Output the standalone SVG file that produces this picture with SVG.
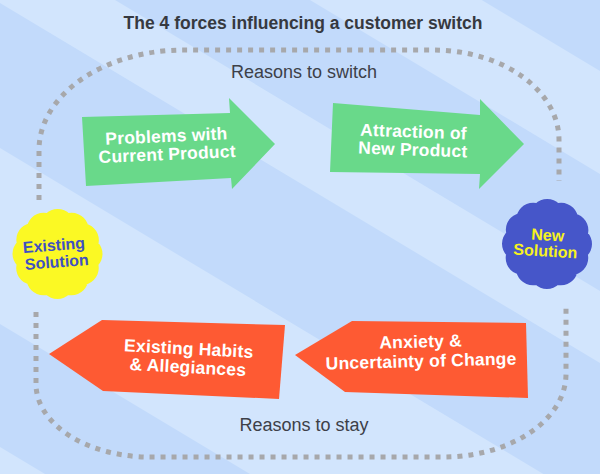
<svg xmlns="http://www.w3.org/2000/svg" width="600" height="474" viewBox="0 0 600 474">
<style>
  text{font-family:"Liberation Sans",Arial,sans-serif;text-anchor:middle}
  .title{font-size:17.5px;font-weight:bold;fill:#363940}
  .reason{font-size:18px;fill:#3d4048}
  .lbl{font-size:17.5px;font-weight:bold;fill:#ffffff;letter-spacing:0.2px}
  .blobtxt{font-size:16px;font-weight:bold}
  .green{fill:#69d98a}
  .orange{fill:#fe5a33}
  .loop{fill:none;stroke:#a7a8ab;stroke-width:5;stroke-dasharray:5 6}
  .light{fill:#d2e5fd}
  .blob{stroke-width:34;stroke-dasharray:0 14.661;stroke-linecap:round}
</style>
<g id="background">
  <rect x="0" y="0" width="600" height="474" fill="#c2dafb"/>
  <polygon class="light" points="-10,-295 610,77 610,180 -10,-192"/>
  <polygon class="light" points="-10,-75 610,297 610,369 -10,-3"/>
  <polygon class="light" points="-10,142 610,514 610,690 -10,318"/>
  <polygon class="light" points="-10,441 610,813 610,900 -10,900"/>
</g>
<text class="title" x="303" y="29">The 4 forces influencing a customer switch</text>
<text class="reason" x="304" y="78">Reasons to switch</text>
<text class="reason" x="304" y="431">Reasons to stay</text>
<g id="connectors">
  <path class="loop" d="M39 200 L39 150 A145 100 0 0 1 184 50 L433 50 A126 90 0 0 1 559 140 L559 181"/>
  <path class="loop" d="M36 312 L36 384 A114 73 0 0 0 150 457 L443 457 A123 83 0 0 0 566 374 L566 307"/>
</g>
<g id="problems-current">
  <polygon class="green" points="82,117 230,113 229,98 275,144 232,189 231,178 86,186"/>
  <g transform="rotate(-2.5 167 151)">
    <text class="lbl" x="167" y="142">Problems with</text>
    <text class="lbl" x="167" y="160">Current Product</text>
  </g>
</g>
<g id="attraction-new">
  <polygon class="green" points="333,103 480,115 480,99 524,144 479,189 480,174 330,172"/>
  <g transform="rotate(2 413 146)">
    <text class="lbl" x="413" y="137.5">Attraction of</text>
    <text class="lbl" x="413" y="155.5">New Product</text>
  </g>
</g>
<g id="existing-habits">
  <polygon class="orange" points="49,354 102,320 285,325 279,399 103,391"/>
  <g transform="rotate(3 188 364)">
    <text class="lbl" x="188" y="354.5">Existing Habits</text>
    <text class="lbl" x="188" y="373">&amp; Allegiances</text>
  </g>
</g>
<g id="anxiety-uncertainty">
  <polygon class="orange" points="295,355 352,321 526,323 528,398 345,392"/>
  <g transform="rotate(-1.5 421 357)">
    <text class="lbl" x="421" y="347.5">Anxiety &amp;</text>
    <text class="lbl" x="421" y="367">Uncertainty of Change</text>
  </g>
</g>
<g id="existing-solution">
  <circle class="blob" cx="57.5" cy="254" r="28" fill="#fbf924" stroke="#fbf924"/>
  <g transform="rotate(-4.5 56 259)">
    <text class="blobtxt" x="55" y="250.5" fill="#3f50c2">Existing</text>
    <text class="blobtxt" x="56.5" y="267.5" fill="#3f50c2">Solution</text>
  </g>
</g>
<g id="new-solution">
  <circle class="blob" cx="547" cy="244" r="28" fill="#4656c9" stroke="#4656c9"/>
  <g transform="rotate(3.5 546 248)">
    <text class="blobtxt" x="547" y="240.5" fill="#f7f220">New</text>
    <text class="blobtxt" x="545.5" y="256.5" fill="#f7f220">Solution</text>
  </g>
</g>
</svg>
